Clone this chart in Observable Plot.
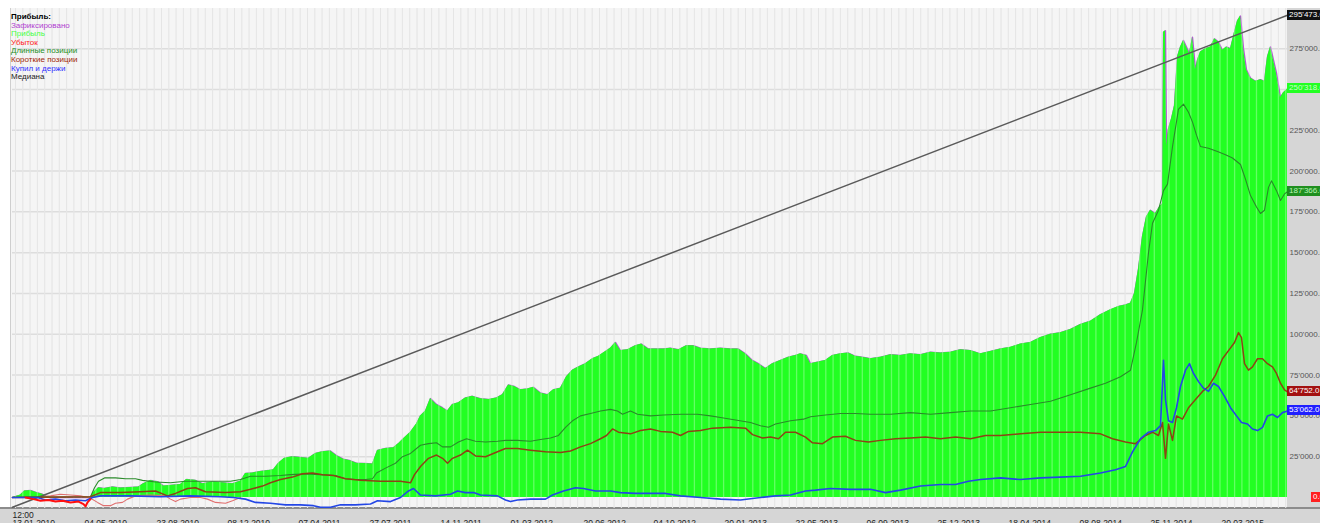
<!DOCTYPE html>
<html><head><meta charset="utf-8">
<script src="https://cdn.jsdelivr.net/npm/d3@7"></script>
<script src="https://cdn.jsdelivr.net/npm/@observablehq/plot@0.6"></script>
<style>
html,body{margin:0;padding:0;background:#fff;overflow:hidden}
#wrap{position:relative;width:1320px;height:523px;font-family:"Liberation Sans",Arial,sans-serif}
#bg{position:absolute;left:10px;top:8px;width:1277px;height:500px;background:#f5f5f5;border-left:1px solid #cfcfcf}
#raxis{position:absolute;left:1287px;top:8px;width:33px;height:501px;background:#d6d6d6}
#baxis{position:absolute;left:0;top:507px;width:1320px;height:16px;background:#d6d6d6;border-top:2px solid #8c8c8c;box-sizing:border-box}
#chart{position:absolute;left:0;top:0}
#legend{position:absolute;left:11px;top:13px;font-size:8px;line-height:8.6px;white-space:nowrap}
.tag{position:absolute;left:1287px;height:10px;font-size:8px;line-height:10px;padding:0 2px;white-space:nowrap;overflow:hidden;width:29px}
</style></head>
<body>
<div id="wrap">
  <div id="bg"></div>
  <div id="raxis"></div>
  <div id="baxis"></div>
  <div id="chart"></div>
  <div id="legend"></div>
</div>
<script>
// ---- data: [bar number, value] ----
const profit = [[0,0],[8,1500],[12,4000],[18,4300],[24,3000],[30,2000],[34,500],[38,0],[78,0],[81,3000],[86,6000],[92,5500],[100,6500],[108,5800],[118,6200],[126,6500],[131,8500],[138,10400],[146,9500],[151,7000],[160,7500],[168,8000],[174,11000],[183,10500],[190,8500],[200,9500],[210,9000],[220,8500],[228,10000],[233,14700],[240,15000],[248,16000],[256,16500],[261,17000],[266,21000],[272,24000],[280,25000],[288,24500],[296,24000],[303,27000],[310,28000],[318,28500],[324,25700],[331,23500],[338,22500],[344,21000],[352,20800],[360,20500],[365,28800],[373,30000],[381,30500],[386,33000],[391,36000],[398,40000],[404,45000],[408,50000],[413,53000],[418,60600],[424,57000],[430,55000],[435,53000],[440,57000],[446,58000],[453,61000],[460,62000],[468,60500],[476,60000],[484,61000],[490,63000],[496,69000],[502,68000],[508,66000],[515,66500],[521,67500],[528,64000],[535,63000],[541,66000],[548,67000],[554,74000],[560,78000],[566,80000],[573,82000],[580,85000],[586,86500],[592,89000],[598,91500],[603,95000],[608,90000],[615,90500],[623,93000],[629,94000],[636,91000],[643,91000],[651,91000],[658,91500],[666,90500],[674,93000],[681,93000],[688,91500],[698,91000],[708,91500],[718,91000],[726,91000],[733,88000],[740,84000],[746,82000],[753,79000],[760,82000],[768,84000],[776,86000],[783,87000],[788,88000],[794,87000],[798,82000],[806,83000],[813,84000],[820,87000],[828,88000],[836,88500],[843,86500],[850,86000],[858,85000],[868,86000],[878,87500],[888,87000],[898,88000],[908,87500],[918,89000],[928,88500],[938,89000],[948,90500],[958,90000],[968,88000],[978,89500],[988,91000],[998,92000],[1008,94000],[1018,95000],[1028,98000],[1038,100000],[1048,101000],[1058,103000],[1068,106000],[1078,108000],[1088,112000],[1098,115000],[1106,117000],[1113,118000],[1118,119000],[1122,125000],[1126,140000],[1130,160000],[1134,172000],[1138,176000],[1143,174000],[1147,178000],[1150,180000],[1151,285000],[1153,286000],[1154,215000],[1156,226000],[1159,232000],[1162,240000],[1165,270000],[1168,276000],[1171,280000],[1174,276000],[1177,272000],[1180,282000],[1183,262000],[1185,268000],[1188,273000],[1193,275000],[1198,276000],[1202,281000],[1206,279000],[1210,274000],[1214,276000],[1218,275000],[1222,285000],[1225,292000],[1228,295000],[1231,275000],[1234,262000],[1238,257000],[1243,255000],[1248,256000],[1252,255000],[1255,270000],[1258,276000],[1261,268000],[1264,260000],[1268,245000],[1271,248000],[1275,250318]];

const longPos = [[0,0],[18,500],[38,300],[78,500],[82,6000],[86,10000],[92,12000],[103,12000],[113,11500],[123,11500],[130,10500],[143,9500],[158,9000],[173,10000],[188,10000],[203,10000],[218,10000],[228,11000],[238,13000],[253,13000],[268,13500],[278,14000],[293,14500],[308,14000],[323,13500],[333,11500],[343,11000],[353,11000],[360,11500],[364,15000],[373,18000],[383,21000],[390,25000],[398,27000],[408,32000],[416,33000],[424,33500],[430,31000],[438,31000],[446,34000],[454,36000],[463,34500],[473,34000],[485,34500],[493,35000],[505,35000],[518,34500],[528,35500],[538,36500],[546,38000],[553,43000],[560,47000],[568,50000],[578,51500],[588,53000],[598,54000],[605,53000],[610,51000],[618,53000],[625,51000],[638,50000],[651,50500],[668,51000],[685,51000],[698,50000],[708,49000],[723,47500],[738,46000],[748,44000],[756,43000],[763,45000],[778,47000],[791,48000],[798,49500],[813,50500],[828,51500],[843,51500],[858,51000],[878,51000],[898,52000],[918,51000],[938,52000],[958,53000],[978,53000],[998,55000],[1018,57000],[1038,59000],[1058,63000],[1078,67000],[1093,70000],[1108,74000],[1118,78000],[1124,95000],[1130,115000],[1136,150000],[1140,168000],[1146,176000],[1151,188000],[1155,192000],[1160,215000],[1166,238000],[1171,241000],[1176,236000],[1180,230000],[1184,222000],[1188,215000],[1196,214000],[1205,212000],[1213,210000],[1220,208000],[1228,204000],[1233,195000],[1238,185000],[1244,178000],[1248,174000],[1252,176000],[1256,190000],[1259,194000],[1264,188000],[1268,182000],[1272,186000],[1275,187366]];

const shortPos = [[0,0],[78,500],[88,3000],[108,3000],[128,3500],[143,4000],[155,1000],[163,2500],[175,5500],[183,6000],[193,3500],[213,3000],[228,3500],[238,5000],[250,7000],[258,9000],[268,11000],[280,12500],[290,14500],[300,15000],[310,14000],[321,13500],[333,11500],[348,10500],[368,10000],[388,10000],[398,9000],[402,14000],[408,19000],[416,24000],[424,26000],[430,24000],[435,21000],[440,24000],[448,26000],[455,29000],[463,25500],[473,25000],[485,28000],[493,30000],[505,30000],[518,29000],[533,28000],[548,27500],[558,28500],[568,31000],[578,33000],[588,36000],[594,38000],[600,42000],[606,40000],[618,39000],[628,41000],[638,42000],[648,40500],[660,40000],[668,38000],[676,40500],[688,41000],[700,42500],[718,43000],[733,42500],[740,38500],[750,36500],[758,37000],[766,36000],[773,40000],[783,40000],[793,37000],[800,33500],[810,33000],[820,37000],[833,37500],[843,35000],[856,34000],[868,35000],[883,36000],[898,36500],[913,37000],[928,36000],[943,37000],[958,36000],[973,38000],[988,38000],[1008,39000],[1028,40000],[1048,40000],[1068,40000],[1088,39000],[1100,36000],[1113,34000],[1123,33000],[1133,38000],[1140,40000],[1146,38000],[1150,46000],[1153,24000],[1156,45000],[1160,35000],[1164,50000],[1170,48000],[1176,55000],[1183,60000],[1190,65000],[1196,68000],[1203,75000],[1210,85000],[1216,90000],[1222,95000],[1226,101000],[1229,98000],[1232,82000],[1236,78000],[1240,80000],[1245,85000],[1250,85000],[1255,82000],[1260,80000],[1264,76000],[1268,70000],[1272,66000],[1275,64752]];

const buyHold = [[0,0],[25,0],[33,-1500],[43,-1000],[53,-2000],[63,-1500],[73,-2000],[80,0],[88,1000],[118,1000],[148,500],[178,1000],[208,500],[221,0],[233,-1000],[243,-3000],[258,-3500],[273,-4500],[288,-4500],[301,-5000],[308,-6000],[318,-6000],[328,-4500],[343,-4500],[358,-4000],[365,-2000],[378,-2500],[388,0],[396,4000],[401,5500],[408,1500],[423,1000],[438,2000],[445,4000],[453,3000],[461,3000],[468,1500],[485,1000],[493,-1500],[498,-2500],[505,-1500],[518,-1000],[533,-1000],[540,1500],[551,4000],[563,6000],[571,5500],[583,4000],[598,4000],[608,3000],[623,2500],[638,2500],[653,2500],[668,1000],[688,0],[708,-1000],[728,-1500],[748,0],[763,1000],[778,1500],[793,4000],[803,4500],[818,5500],[838,5000],[858,5000],[873,3000],[888,4500],[908,7000],[928,8000],[943,8000],[956,10000],[968,11000],[988,12000],[1008,11000],[1028,12000],[1048,12500],[1068,13000],[1088,15000],[1103,17000],[1113,19000],[1120,28000],[1128,36000],[1136,40000],[1143,41000],[1148,44000],[1151,84000],[1153,60000],[1156,47000],[1160,46000],[1164,55000],[1168,68000],[1173,78000],[1177,82000],[1181,76000],[1186,71000],[1191,67000],[1196,65000],[1201,70000],[1206,68000],[1212,62000],[1218,55000],[1224,50000],[1229,46000],[1235,45000],[1240,42000],[1245,41000],[1250,43000],[1255,50000],[1260,51000],[1265,49000],[1270,52000],[1275,53062]];

const loss = [[13,0],[21,-1000],[28,-2000],[36,-1500],[43,-2500],[50,-2000],[58,-3000],[66,-2500],[71,-4000],[73,-5500],[75,-3000],[78,-1000]];
const lossTrail = [[28,500],[38,1000],[48,2000],[58,1500],[68,1000],[78,-500],[85,-3000],[91,-5000],[98,-5000],[103,-3500],[110,-3000],[115,-1000],[123,1000],[138,1500],[153,1000],[158,-1000],[163,-2500],[168,-1000],[178,0],[188,0],[195,-1000],[203,-3000],[213,-3500],[220,-2000],[228,0]];

const median = [[0,-6000],[1275,295473]];

const yTicks = [25000,50000,75000,100000,125000,150000,175000,200000,225000,250000,275000];
const tickBars = [0,72,144,215,286,357,428,498,571,641,712,783,854,925,996,1067,1138,1209];
const tickLabels = ["13.01.2010","04.05.2010","23.08.2010","08.12.2010","07.04.2011","27.07.2011","14.11.2011","01.03.2012","20.06.2012","04.10.2012","20.01.2013","22.05.2013","06.09.2013","25.12.2013","18.04.2014","08.08.2014","25.11.2014","20.03.2015"];

const legendTitle = "Прибыль:";
const legendNames = ["Зафиксировано","Прибыль","Убыток","Длинные позиции","Короткие позиции","Купил и держи","Медиана"];
const legendColors = ["#b040d0","#44ff44","#ff2020","#1f8f1f","#a02808","#3030ff","#222222"];

// ---- build ----
const rows = a => a.map(([bar, v]) => ({bar, v}));
const fmt = d3.formatLocale({decimal:".", thousands:"'", grouping:[3], currency:["",""]}).format(",.1f");
const labelOf = new Map(tickBars.map((b, i) => [b, tickLabels[i]]));
const gridBars = d3.range(3, 1275, 7.3);

const plot = Plot.plot({
  width: 1320, height: 523,
  marginTop: 8, marginBottom: 15, marginLeft: 12, marginRight: 33,
  style: {background: "transparent", fontFamily: "'Liberation Sans', Arial, sans-serif"},
  x: {domain: [0, 1275], axis: null},
  y: {domain: [-6740, 299600], axis: null},
  marks: [
    Plot.ruleY(yTicks, {stroke: "#dddddd", strokeWidth: 1.5}),
    Plot.ruleX(gridBars, {stroke: "#dadada", strokeWidth: 1}),
    Plot.line(rows(profit), {x: "bar", y: "v", stroke: "#b45ad2", strokeWidth: 1.4}),
    Plot.areaY(rows(profit), {x: "bar", y: "v", fill: "#22ff22"}),
    Plot.ruleX(gridBars, {stroke: "#ffffff", strokeOpacity: 0.3, strokeWidth: 1.3}),
    Plot.line(rows(lossTrail), {x: "bar", y: "v", stroke: "#e07070", strokeWidth: 1.1}),
    Plot.line(rows(median), {x: "bar", y: "v", stroke: "#5a5a5a", strokeWidth: 1.5}),
    Plot.line(rows(longPos), {x: "bar", y: "v", stroke: "#2a8a2a", strokeWidth: 1.1}),
    Plot.line(rows(shortPos), {x: "bar", y: "v", stroke: "#8c4416", strokeWidth: 1.5}),
    Plot.line(rows(buyHold), {x: "bar", y: "v", stroke: "#2447e6", strokeWidth: 1.6}),
    Plot.line(rows(loss), {x: "bar", y: "v", stroke: "#ff1010", strokeWidth: 2}),
    Plot.axisY(yTicks, {anchor: "right", tickSize: 0, tickPadding: 2, tickFormat: fmt, fontSize: 8, color: "#555", textAnchor: "start", label: null}),
    Plot.axisX(tickBars, {anchor: "bottom", tickSize: 0, tickPadding: 11, tickFormat: d => labelOf.get(d), textAnchor: "start", fontSize: 8.5, color: "#222", label: null}),
    Plot.axisX([0], {anchor: "bottom", tickSize: 0, tickPadding: 3, tickFormat: () => "12:00", textAnchor: "start", fontSize: 8.5, color: "#222", label: null})
  ]
});
document.getElementById("chart").appendChild(plot);

// legend
const lg = document.getElementById("legend");
const t = document.createElement("div");
t.textContent = legendTitle; t.style.fontWeight = "bold"; t.style.color = "#000";
lg.appendChild(t);
legendNames.forEach((n, i) => {
  const d = document.createElement("div");
  d.textContent = n; d.style.color = legendColors[i];
  lg.appendChild(d);
});

// last-value tags on the right axis
const ys = plot.scale("y");
const last = a => a[a.length - 1][1];
const tags = [
  {v: last(median), bg: "#111111", fg: "#ffffff"},
  {v: last(profit), bg: "#22ff22", fg: "#c8ffc8"},
  {v: last(longPos), bg: "#1f8f1f", fg: "#b8f5b8"},
  {v: last(shortPos), bg: "#a31010", fg: "#ffffff"},
  {v: last(buyHold), bg: "#1f1fff", fg: "#ffffff"},
  {v: 0, bg: "#ff2020", fg: "#ffffff", left: 1311}
];
const wrap = document.getElementById("wrap");
tags.forEach(tg => {
  const d = document.createElement("div");
  d.className = "tag";
  d.textContent = fmt(tg.v);
  d.style.background = tg.bg; d.style.color = tg.fg;
  d.style.top = (ys.apply(tg.v) - 5) + "px";
  if (tg.left) { d.style.left = tg.left + "px"; d.style.width = "7px"; }
  wrap.appendChild(d);
});
</script>
</body></html>
